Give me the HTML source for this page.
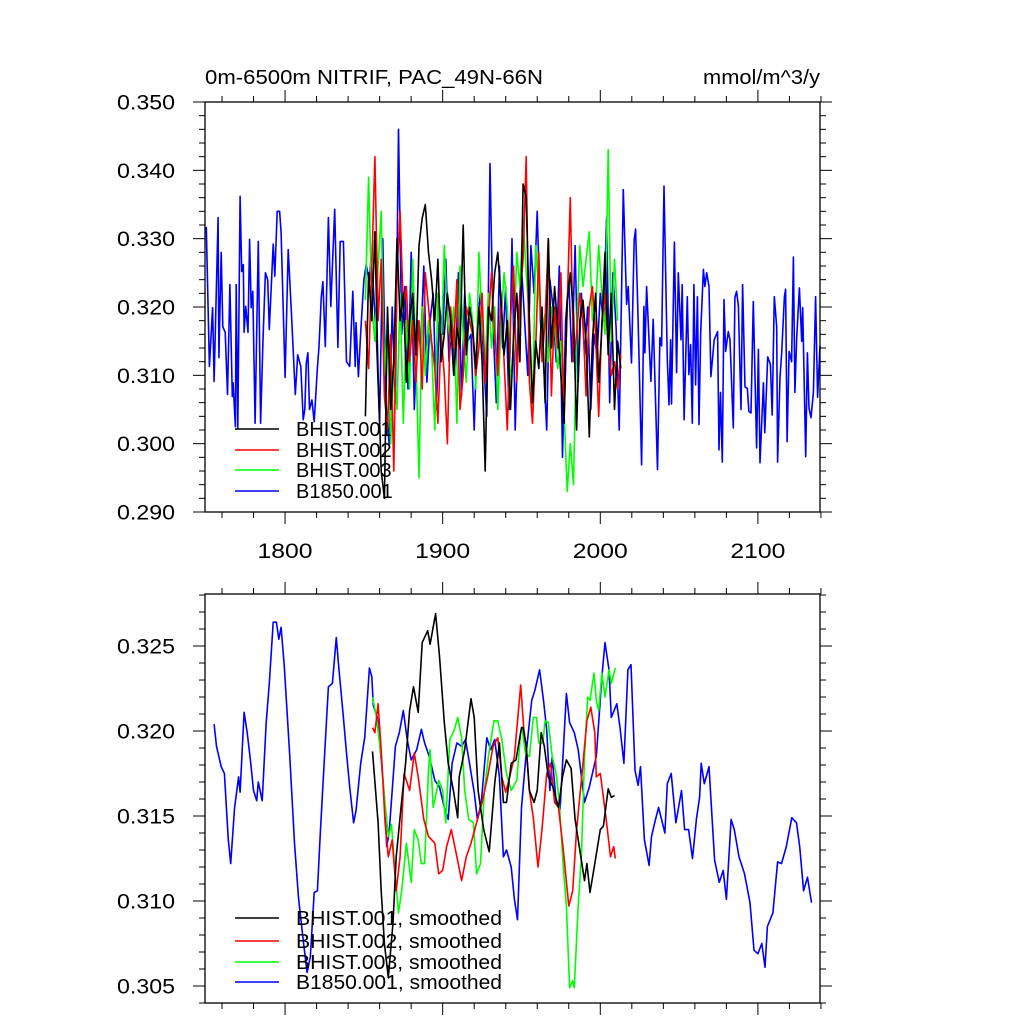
<!DOCTYPE html>
<html><head><meta charset="utf-8">
<style>
html,body{margin:0;padding:0;background:#fff;}
svg{display:block;font-family:"Liberation Sans",Arial,sans-serif;}
</style></head>
<body>
<svg id="chart" width="1024" height="1024" viewBox="0 0 1024 1024" xmlns="http://www.w3.org/2000/svg">
<rect x="0" y="0" width="1024" height="1024" fill="#fff"/>
<text x="205" y="84" font-size="20" textLength="338" lengthAdjust="spacingAndGlyphs">0m-6500m NITRIF, PAC_49N-66N</text>
<text x="703" y="84" font-size="20" textLength="117" lengthAdjust="spacingAndGlyphs">mmol/m^3/y</text>
<g id="top"></g>
<g id="bot"></g>
</svg>
<script>
// ---------- data: top panel (annual) ----------
const blueTopYears = [1750,1752,1754,1755,1757.5,1758,1759.5,1760.5,1762,1763.5,1765,1766.5,1767,1768.5,1769,1770,1771.5,1772.5,1773.5,1774,1775,1776.5,1777.5,1778.5,1779.5,1781,1783,1784.5,1786,1787.5,1789,1790,1792.5,1793.5,1795,1796.5,1797.5,1800,1802,1804,1806.5,1808,1810,1811.5,1812.5,1813.5,1814.5,1815.5,1817,1818.5,1820.5,1821.5,1823,1824,1825.5,1827.5,1829,1831.5,1833.5,1835,1837,1839,1841,1843,1844.5,1845,1846.5,1848,1850,1851.5,1853.5,1854.5,1856,1858,1860,1862,1864,1866,1868,1870,1872,1874,1876,1878,1880,1882,1884,1886,1888,1890,1892,1894,1896,1898,1900,1902,1904,1906,1908,1910,1912,1914,1916,1918,1920,1922,1924,1926,1928,1930,1932,1934,1936,1938,1940,1942,1944,1946,1948,1950,1952,1954,1956,1958,1960,1962,1964,1966,1968,1970,1972,1974,1976,1978,1980,1982,1984,1986,1988,1990,1992,1994,1996,1998,2000,2002,2004,2006,2008,2010,2012,2014.6,2016.7,2017.7,2019.8,2021.5,2022.4,2024,2026.2,2027.7,2028.3,2029.4,2032.1,2033.6,2036.3,2037.8,2038.9,2040.4,2042.5,2043.6,2044.6,2045.2,2047,2048.4,2049.5,2051.2,2052,2053.2,2055.2,2056.2,2057.3,2058.4,2059.4,2060.5,2061.6,2062.6,2063.7,2065.4,2066.4,2067.5,2069,2070.2,2072.3,2074.4,2075.3,2076.3,2077.4,2078.5,2079.5,2081.2,2082.3,2084.4,2085.4,2086.5,2087.6,2089.3,2090.3,2091.8,2093.3,2094.3,2095.6,2097.1,2099.2,2100.3,2101.3,2103.5,2104.4,2106.2,2107.9,2109.1,2110.4,2111.9,2112.5,2114,2115.1,2116.8,2117.6,2118.5,2119.8,2121.4,2122.5,2123.5,2124.6,2126.3,2127.8,2128.4,2130.3,2131.4,2132.4,2133.7,2135.2,2136.6,2137.9,2139.4];
const blueTopVals = [.3317,.3113,.3199,.3091,.3331,.3126,.3280,.3171,.3163,.3072,.3233,.3069,.3089,.3025,.3233,.3023,.3362,.3252,.3262,.3163,.3201,.3163,.3299,.3199,.3223,.3030,.3296,.3030,.3152,.3250,.3240,.3167,.3292,.3245,.3340,.3340,.3309,.3097,.3284,.3192,.3072,.3130,.3113,.3035,.3050,.3118,.3133,.3050,.3064,.3032,.3111,.3142,.3215,.3237,.3142,.3331,.3201,.3343,.3141,.3296,.3296,.3120,.3113,.3223,.3113,.3177,.3098,.3163,.3240,.3262,.3237,.3272,.323,.315,.303,.330,.306,.300,.320,.306,.346,.316,.323,.308,.328,.305,.318,.314,.326,.309,.318,.322,.305,.320,.316,.327,.312,.318,.310,.325,.307,.322,.315,.316,.302,.318,.322,.312,.304,.341,.317,.306,.326,.314,.323,.305,.330,.302,.318,.326,.318,.310,.329,.322,.334,.318,.312,.302,.324,.320,.312,.326,.298,.318,.324,.312,.329,.309,.322,.313,.320,.305,.316,.313,.322,.318,.333,.306,.325,.317,.302,.3372,.3204,.3230,.3118,.3299,.3314,.3182,.2969,.3201,.3133,.3230,.3091,.3182,.2962,.3155,.3143,.3377,.3123,.3057,.3152,.3058,.3295,.3104,.3250,.3152,.3233,.3035,.3215,.3101,.3145,.3030,.3233,.3086,.3215,.3028,.3163,.3255,.3230,.3250,.3230,.3098,.3152,.3164,.2991,.3075,.2973,.3211,.3135,.3164,.3152,.3023,.3214,.3223,.3201,.3050,.3233,.3083,.3081,.3047,.3045,.3208,.2994,.3138,.2972,.3089,.3016,.3127,.3116,.3042,.3215,.3171,.2973,.3097,.3133,.3215,.3226,.3003,.3135,.3120,.3273,.3075,.3155,.3228,.3150,.3199,.2981,.3133,.3052,.3038,.3075,.3215,.3068,.3143];
const histYearsOdd = [1851,1853,1855,1857,1859,1861,1863,1865,1867,1869,1871,1873,1875,1877,1879,1881,1883,1885,1887,1889,1891,1893,1895,1897,1899,1901,1903,1905,1907,1909,1911,1913,1915,1917,1919,1921,1923,1925,1927,1929,1931,1933,1935,1937,1939,1941,1943,1945,1947,1949,1951,1953,1955,1957,1959,1961,1963,1965,1967,1969,1971,1973,1975,1977,1979,1981,1983,1985,1987,1989,1991,1993,1995,1997,1999,2001,2003,2005,2007,2009,2011,2013];
const blackTopVals = [.304,.325,.318,.331,.310,.296,.292,.320,.305,.312,.330,.318,.322,.309,.318,.322,.313,.329,.333,.335,.328,.324,.318,.327,.312,.316,.322,.318,.310,.317,.314,.332,.313,.320,.317,.311,.320,.312,.296,.320,.318,.325,.328,.321,.313,.318,.305,.316,.322,.312,.338,.336,.318,.306,.315,.311,.320,.306,.330,.314,.323,.317,.310,.303,.321,.325,.319,.302,.318,.321,.315,.301,.315,.322,.309,.317,.328,.313,.322,.305,.315,.311];
const redTopVals = [.318,.311,.326,.342,.318,.327,.307,.302,.316,.296,.325,.334,.320,.323,.312,.318,.309,.318,.308,.325,.320,.315,.311,.303,.316,.310,.300,.320,.314,.324,.305,.310,.320,.318,.316,.310,.314,.322,.309,.318,.325,.316,.310,.322,.312,.302,.318,.326,.309,.321,.327,.342,.309,.303,.314,.328,.312,.318,.330,.307,.320,.314,.325,.303,.320,.336,.312,.316,.322,.318,.307,.320,.323,.316,.304,.318,.322,.314,.310,.312,.308,.313];
const greenTopVals = [.321,.339,.320,.315,.326,.334,.310,.318,.300,.312,.305,.322,.303,.318,.308,.327,.313,.295,.320,.310,.318,.314,.302,.322,.313,.329,.318,.315,.320,.303,.326,.316,.309,.322,.318,.308,.328,.318,.312,.322,.314,.320,.305,.318,.325,.320,.309,.314,.328,.323,.333,.325,.318,.304,.329,.322,.316,.319,.312,.320,.318,.311,.315,.305,.293,.300,.294,.316,.329,.323,.327,.331,.318,.320,.329,.322,.316,.343,.315,.327,.318];
// ---------- data: bottom panel (smoothed) ----------
const blueSmYears = [1755,1756.5,1759.5,1761.5,1764,1765.5,1768,1770.5,1771.5,1774,1776,1778,1780,1782,1783,1785.5,1788,1790,1792.5,1794.5,1796,1797.5,1799.5,1803,1806,1808.5,1811.5,1814,1816,1818.5,1820.5,1822.5,1825,1827.5,1830,1832.5,1834,1837,1839,1841,1843.5,1845,1848,1850.5,1853.5,1855,1856,1858.5,1861,1863,1864.5,1866,1868,1870,1872.5,1875,1877.5,1880,1883.5,1886.5,1888.5,1891.5,1895,1898,1901,1903.5,1906,1909,1912,1914.5,1917,1920,1922,1924.5,1928,1930.5,1933,1936,1938.5,1940.5,1943.5,1945.5,1947.5,1950,1953,1956.5,1958.5,1961.5,1964,1966,1968,1969.5,1972,1974.5,1978.5,1980.5,1983.5,1986,1990,1993,1997.5,2001,2003,2005.5,2007,2010.5,2012.5,2015,2017.5,2019.5,2022,2024,2025.5,2028,2031,2032.5,2035,2037,2041,2042.5,2045,2048,2051.5,2053.5,2056,2058.5,2061,2063,2064,2066,2069,2072.5,2075.5,2078,2080,2083,2085,2088,2091.5,2095,2097.5,2100,2102.5,2104.5,2106,2109.5,2112.5,2115,2118,2121.5,2124.5,2126.5,2129,2131.5,2134];
const blueSmVals = [.3204,.3191,.3179,.3175,.3136,.3122,.3155,.3173,.3164,.3211,.3199,.3183,.3165,.3159,.3170,.3159,.3205,.3228,.3264,.3264,.3254,.3261,.3238,.3185,.3134,.3102,.3077,.3058,.3067,.3105,.3106,.3142,.3185,.3226,.3228,.3255,.3238,.3208,.3187,.3167,.3146,.3153,.3181,.3196,.3237,.3232,.3215,.3208,.3183,.3161,.3132,.3140,.3165,.3191,.3199,.3212,.3195,.3183,.3189,.3201,.3193,.3185,.3171,.3167,.3155,.3148,.3181,.3193,.3191,.3195,.3181,.3164,.3148,.3158,.3196,.3189,.3195,.3173,.3126,.3130,.3120,.3101,.3089,.3155,.3187,.3218,.3224,.3236,.3218,.3201,.3165,.3185,.3158,.3154,.3222,.3205,.3199,.3189,.3158,.3167,.3185,.3232,.3252,.3236,.3208,.3216,.3202,.3181,.3236,.3239,.3177,.3168,.3179,.3136,.3121,.3138,.3148,.3155,.3140,.3169,.3175,.3146,.3165,.3142,.3142,.3125,.3148,.3161,.3181,.3169,.3179,.3124,.3111,.3118,.3101,.3148,.3142,.3126,.3116,.3099,.3071,.3069,.3075,.3061,.3085,.3093,.3123,.3122,.3132,.3149,.3146,.3132,.3106,.3114,.3099];
const blackSmYears = [1855.5,1856.5,1859,1861,1863,1865.5,1868.5,1870.5,1874,1876.5,1879,1881.5,1884.5,1887,1890.5,1892,1895.5,1898,1901,1903.5,1907,1909.5,1910.5,1914,1918,1920,1922.5,1926,1929.5,1933,1936,1938.5,1940.5,1943.5,1946.5,1950,1951,1953,1955,1958,1960,1962.5,1964.5,1967,1970,1973.5,1976,1978.5,1981.5,1984,1987,1990,1991.5,1993.5,1996.5,2000,2002,2005,2007,2009];
const blackSmVals = [.3188,.3176,.3146,.3106,.3075,.3055,.3087,.3126,.3159,.3181,.3212,.3226,.3211,.3252,.3259,.3251,.3269,.3244,.3205,.3181,.3164,.3149,.3173,.3189,.3219,.3208,.3165,.3142,.3129,.3169,.3193,.3158,.3158,.3181,.3183,.3202,.3202,.3191,.3165,.3158,.3165,.3199,.3191,.3173,.3167,.3155,.3173,.3183,.3178,.3148,.3130,.3112,.3122,.3105,.3122,.3142,.3144,.3166,.3161,.3162];
const redSmYears = [1855.5,1857,1859,1861,1863.5,1865.5,1868,1870.5,1873,1875.5,1879,1882,1884.5,1888,1891,1895,1897.5,1900,1902.5,1905.5,1909,1912,1915,1918,1921.5,1925,1928.5,1932,1935,1937.5,1940,1942.5,1945.5,1949.5,1951.5,1953,1955,1957.5,1960.5,1963,1966,1968.5,1971,1973.5,1976.5,1980,1982.5,1985,1988,1991.5,1994,1996.5,1997.5,2000,2002,2004,2006.5,2008.5,2009.5];
const redSmVals = [.3202,.3199,.3216,.3189,.3146,.3126,.3136,.3106,.3126,.3175,.3165,.3187,.3173,.3148,.3138,.3134,.3116,.3118,.3132,.3142,.3126,.3112,.3126,.3134,.3146,.3158,.3173,.3191,.3196,.3173,.3164,.3173,.3185,.3227,.3201,.3191,.3165,.3149,.3120,.3142,.3175,.3181,.3158,.3155,.3130,.3097,.3106,.3142,.3171,.3206,.3214,.3199,.3173,.3175,.3161,.3146,.3126,.3132,.3125];
const greenSmYears = [1855.5,1858,1861,1863,1865.5,1867.5,1869.5,1872,1874,1877,1880,1882,1884.5,1886.5,1888.5,1891,1892,1894,1897.5,1900,1902,1904.5,1907.5,1909.5,1912,1914,1916.5,1919.5,1921.5,1924,1926.5,1929,1932.5,1935,1937.5,1940.5,1943.5,1947,1949.5,1950.5,1952.5,1955,1957.5,1959.5,1961,1963.5,1965,1967,1969.5,1972,1974,1976.5,1978.5,1980.5,1982.5,1983.5,1986,1988,1990,1992,1993.5,1996,1997.5,1999,2001,2003,2005.5,2007,2009.5];
const greenSmVals = [.3220,.3208,.3185,.3161,.3138,.3145,.3120,.3093,.3106,.3134,.3111,.3142,.3136,.3122,.3122,.3177,.3189,.3155,.3171,.3165,.3146,.3195,.3201,.3208,.3196,.3165,.3148,.3146,.3116,.3122,.3165,.3185,.3206,.3206,.3195,.3175,.3165,.3171,.3199,.3201,.3187,.3185,.3208,.3208,.3193,.3193,.3206,.3205,.3185,.3175,.3158,.3120,.3097,.3049,.3053,.3049,.3097,.3126,.3185,.3220,.3218,.3234,.3218,.3212,.3234,.3220,.3236,.3228,.3237];
const xTickLabels = ["1800","1900","2000","2100"];
const topYTickLabels = ["0.290","0.300","0.310","0.320","0.330","0.340","0.350"];
const botYTickLabels = ["0.305","0.310","0.315","0.320","0.325"];

const NS = "http://www.w3.org/2000/svg";
const L = 205, R = 820, X0 = 1749.2, X1 = 2139.4;
function xS(yr){ return L + (yr - X0) / (X1 - X0) * (R - L); }
function mk(parent, tag, attrs){
  const e = document.createElementNS(NS, tag);
  for (const k in attrs) e.setAttribute(k, attrs[k]);
  parent.appendChild(e); return e;
}
function panel(g, top, bot, v0, v1, yLabels, minorStep, legend, series, showX, prefix){
  const yS = v => bot - (v - v0) / (v1 - v0) * (bot - top);
  series.forEach(s => {
    let d = "";
    s.x.forEach((yr, i) => { d += (i ? "L" : "M") + xS(yr).toFixed(1) + "," + yS(s.y[i]).toFixed(1); });
    const p = mk(g, "path", {d: d, fill: "none", stroke: s.c, "stroke-width": 1.6, "stroke-linejoin": "round"});
    
    
  });
  const fr = mk(g, "rect", {x: L, y: top, width: R - L, height: bot - top, fill: "none", stroke: "#000", "stroke-width": 1.3});
  
  
  for (let yr = 1760; yr <= 2140; yr += 20) {
    const x = xS(yr), maj = yr % 100 === 0, len = maj ? 12 : 6;
    mk(g, "line", {x1: x, x2: x, y1: bot, y2: bot + len, stroke: "#000", "stroke-width": 1});
    mk(g, "line", {x1: x, x2: x, y1: top, y2: top - len, stroke: "#000", "stroke-width": 1});
  }
  if (showX) {
    xTickLabels.forEach(t => {
      const tx = mk(g, "text", {x: xS(+t) - 27.5, y: 558, "font-size": 21, textLength: 55, lengthAdjust: "spacingAndGlyphs"});
      tx.textContent = t;
      
      
    });
  }
  const n = Math.round((v1 - v0) / minorStep);
  for (let i = 0; i <= n; i++) {
    const v = v0 + i * minorStep, y = yS(v);
    const maj = yLabels.some(l => Math.abs(+l - v) < minorStep / 10);
    const len = maj ? 12 : 6;
    mk(g, "line", {x1: L, x2: L - len, y1: y, y2: y, stroke: "#000", "stroke-width": 1});
    mk(g, "line", {x1: R, x2: R + len, y1: y, y2: y, stroke: "#000", "stroke-width": 1});
  }
  yLabels.forEach(t => {
    const tx = mk(g, "text", {x: 117, y: yS(+t) + 7.5, "font-size": 21, textLength: 58, lengthAdjust: "spacingAndGlyphs"});
    tx.textContent = t;
    
    
  });
  legend.ys.forEach((y, i) => {
    const s = series.find(q => q.n === legend.order[i]);
    const ln = mk(g, "line", {x1: 235, x2: 279, y1: y, y2: y, stroke: s.c, "stroke-width": 1.6});
    
    
    const attrs = {x: 296, y: y + 7, "font-size": 20};
    if (legend.len) { attrs.textLength = legend.len; attrs.lengthAdjust = "spacingAndGlyphs"; }
    const tx = mk(g, "text", attrs);
    tx.textContent = legend.labels[i];
    
    
  });
}
panel(document.getElementById("top"), 102, 512, 0.290, 0.350, topYTickLabels, 0.002,
  {ys: [429, 450, 470, 491], order: ["bhist001","bhist002","bhist003","b1850"], labels: ["BHIST.001","BHIST.002","BHIST.003","B1850.001"], len: 0},
  [
    {n: "b1850", c: "#0000ff", x: blueTopYears, y: blueTopVals},
    {n: "bhist003", c: "#00ff00", x: histYearsOdd.slice(0, greenTopVals.length), y: greenTopVals},
    {n: "bhist002", c: "#ff0000", x: histYearsOdd, y: redTopVals},
    {n: "bhist001", c: "#000000", x: histYearsOdd, y: blackTopVals}
  ], true, "top");
panel(document.getElementById("bot"), 594, 1003, 0.304, 0.32806, botYTickLabels, 0.001,
  {ys: [918, 941, 962, 982], order: ["bhist001","bhist002","bhist003","b1850"], labels: ["BHIST.001, smoothed","BHIST.002, smoothed","BHIST.003, smoothed","B1850.001, smoothed"], len: 206},
  [
    {n: "b1850", c: "#0000ff", x: blueSmYears, y: blueSmVals},
    {n: "bhist003", c: "#00ff00", x: greenSmYears, y: greenSmVals},
    {n: "bhist002", c: "#ff0000", x: redSmYears, y: redSmVals},
    {n: "bhist001", c: "#000000", x: blackSmYears, y: blackSmVals}
  ], false, "bottom");
</script>
</body></html>
